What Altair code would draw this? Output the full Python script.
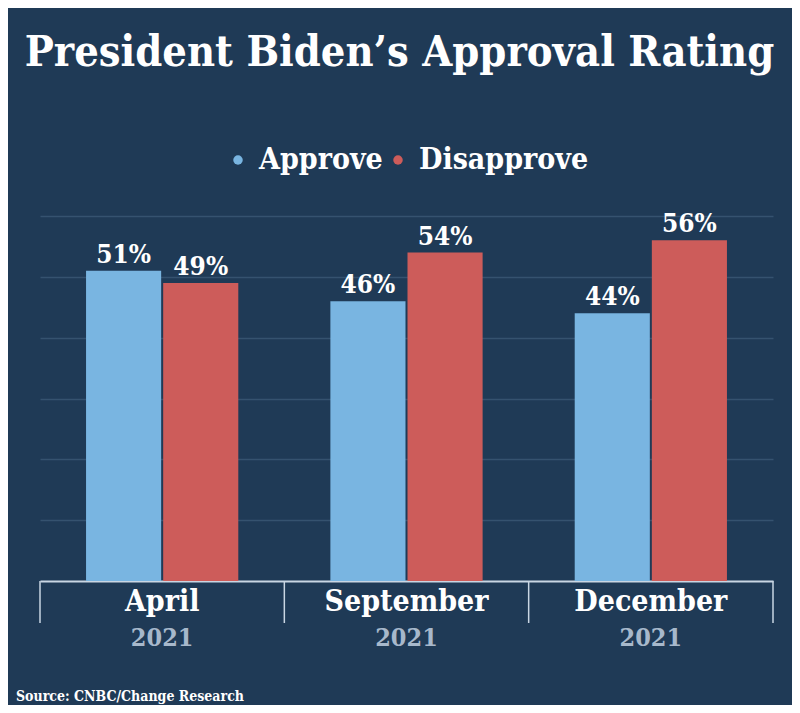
import altair as alt
import pandas as pd

# ---- data ----
months = ["April", "September", "December"]
years = ["2021", "2021", "2021"]
series = ["Approve", "Disapprove"]
approve = [51, 46, 44]
disapprove = [49, 54, 56]
gridlines = [10, 20, 30, 40, 50, 60]
title_text = ["President Biden\u2019s Approval Rating"]
source_text = ["Source: CNBC/Change Research"]

rows = []
for m, a, d in zip(months, approve, disapprove):
    rows.append({"month": m, "series": series[0], "value": a, "label": f"{a}%"})
    rows.append({"month": m, "series": series[1], "value": d, "label": f"{d}%"})
df = pd.DataFrame(rows)
mdf = pd.DataFrame({"month": months, "year": years})
sdf = pd.DataFrame({"source": source_text})
tdf = pd.DataFrame({"title": title_text})

BG = "#1f3a56"
FONT = "DejaVu Serif Condensed, DejaVu Serif, serif"
W, H = 733, 365

xenc = alt.X("month:N", sort=months,
             scale=alt.Scale(paddingInner=0, paddingOuter=0),
             axis=alt.Axis(title=None, labelAngle=0, ticks=False, grid=False,
                           labelFont=FONT, labelFontSize=30, labelFontWeight="bold",
                           labelColor="white", labelPadding=5, labelBaseline="top",
                           domainColor="#c9d6e3", domainWidth=2))
xoff = alt.XOffset("series:N", sort=series,
                   scale=alt.Scale(paddingInner=0.026, paddingOuter=0.597))
yenc = alt.Y("value:Q", scale=alt.Scale(domain=[0, 60]),
             axis=alt.Axis(title=None, labels=False, ticks=False, domain=False,
                           values=gridlines, grid=True, gridColor="#35526f",
                           gridWidth=1.5))
color = alt.Color("series:N", sort=series,
                  scale=alt.Scale(domain=series, range=["#79b5e1", "#cd5c5a"]),
                  legend=alt.Legend(title=None, orient="none", direction="horizontal",
                                    legendX=183, legendY=-71,
                                    symbolType="circle", symbolSize=90,
                                    symbolStrokeWidth=0, labelFont=FONT,
                                    labelFontSize=30, labelFontWeight="bold",
                                    labelColor="white", labelOffset=6,
                                    columnPadding=0, labelLimit=400))

bars = alt.Chart(df).mark_bar().encode(x=xenc, xOffset=xoff, y=yenc, color=color)

labels = alt.Chart(df).mark_text(font=FONT, fontSize=26, fontWeight="bold",
                                 color="white", baseline="alphabetic", dy=-8).encode(
    x=alt.X("month:N", sort=months), xOffset=alt.XOffset("series:N", sort=series),
    y="value:Q", text="label:N")

year_txt = alt.Chart(mdf).mark_text(font=FONT, fontSize=25, fontWeight="bold",
                                    color="#a7b8cb", baseline="middle").encode(
    x=alt.X("month:N", sort=months), y=alt.value(H + 57), text="year:N")

sep = alt.Chart(mdf).mark_rule(color="#c9d6e3", strokeWidth=1.5).encode(
    x=alt.X("month:N", sort=months, bandPosition=0),
    y=alt.value(H), y2=alt.value(H + 42))
sep_end = alt.Chart(mdf).transform_filter(
    alt.datum.month == months[-1]).mark_rule(color="#c9d6e3", strokeWidth=1.5).encode(
    x=alt.X("month:N", sort=months, bandPosition=1),
    y=alt.value(H), y2=alt.value(H + 42))

title = alt.Chart(tdf).mark_text(font=FONT, fontSize=43, fontWeight="bold",
                                 color="white", align="center",
                                 baseline="alphabetic").encode(
    x=alt.value(W / 2 - 7), y=alt.value(-150), text="title:N")

src = alt.Chart(sdf).mark_text(font=FONT, fontSize=14, fontWeight="bold",
                               color="white", align="left", baseline="alphabetic").encode(
    x=alt.value(-24), y=alt.value(H + 120), text="source:N")

chart = alt.layer(bars, labels, sep, sep_end, year_txt, title, src).properties(
    width=W, height=H,
    autosize=alt.AutoSizeParams(type="none"),
    padding={"left": 32, "top": 208, "right": 19, "bottom": 124},
    background=BG,
).configure_view(stroke=None)

chart.save("out.html", embed_options={"renderer": "svg", "actions": False})
